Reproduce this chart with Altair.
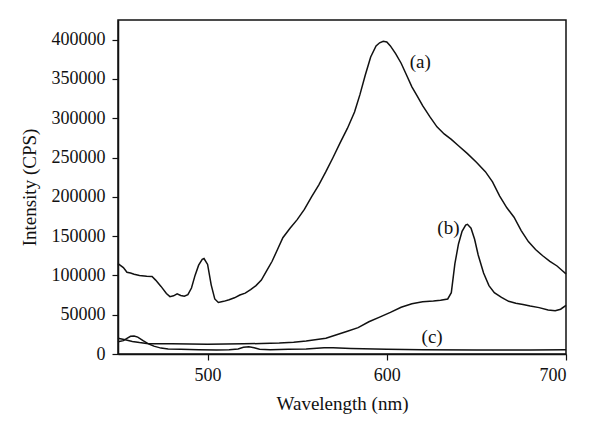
import altair as alt
import pandas as pd

# Curve (a)
a_wl = [450, 453, 455, 457, 459, 462, 466, 469, 471, 474, 477, 479, 481, 483, 485, 487, 489, 491, 493, 495,
        497, 498, 500, 502, 504, 506, 509, 512, 515, 518, 521, 524, 527, 530, 533, 536, 539, 542, 546, 550,
        554, 558, 562, 566, 570, 574, 578, 582, 585, 588, 591, 594, 596, 598, 600, 602, 605, 608, 611, 614,
        617, 620, 624, 628, 632, 636, 640, 645, 650, 655, 659, 663, 667, 671, 675, 679, 683, 687, 691, 695,
        698, 700]
a_int = [115000, 110000, 104000, 103000, 101500, 100000, 99000, 98500, 94000, 86000, 77000, 73000, 74000,
         76500, 74500, 73500, 75500, 84000, 100000, 113000, 120500, 121500, 114000, 88000, 70000, 65500, 67000,
         69000, 71500, 75000, 77500, 82000, 87000, 94000, 106000, 118000, 133000, 148000, 160000, 171000,
         184000, 200000, 215000, 232000, 250000, 269000, 287000, 308000, 330000, 355000, 378000, 392000,
         396000, 398000, 397000, 392000, 382000, 370000, 355000, 340000, 328000, 316000, 302000, 289000,
         280000, 273000, 265000, 255000, 244000, 232000, 219000, 201000, 186000, 174000, 157000, 143000,
         133000, 125000, 118000, 112000, 106000, 102000]

# Curve (b)
b_wl = [450, 454, 458, 462, 466, 470, 480, 490, 500, 510, 520, 530, 540, 548, 555, 560, 566, 572, 578, 584,
        590, 596, 602, 608, 614, 620, 626, 630, 634, 636, 638, 640, 642, 644, 645, 647, 649, 651, 654, 657,
        660, 664, 668, 672, 676, 680, 685, 690, 694, 697, 700]
b_int = [20000, 18000, 16000, 14500, 13500, 13000, 13000, 12800, 12500, 12700, 13000, 13300, 14000, 15000,
         16500, 18000, 20000, 24500, 29000, 33500, 41000, 47000, 53000, 59500, 64000, 66500, 67500, 68500,
         70000, 78000, 115000, 140000, 156000, 164000, 165000, 160000, 146000, 126000, 103000, 87000, 78000,
         72000, 67000, 64500, 63000, 61000, 59000, 56000, 55000, 57000, 62000]

# Curve (c)
c_wl = [450, 453, 455, 457, 459, 461, 464, 467, 470, 474, 478, 485, 495, 505, 512, 517, 520, 523, 526, 529,
        535, 545, 555, 565, 570, 580, 600, 620, 650, 680, 700]
c_int = [15500, 17000, 20000, 22500, 23000, 21500, 17000, 13000, 10000, 7500, 6500, 6000, 5500, 5200, 5500,
         6500, 8500, 9300, 8000, 6000, 5500, 6000, 6500, 7800, 7800, 7000, 6000, 5500, 5000, 5000, 5500]

# Curve labels
lab_text = ["(a)", "(b)", "(c)"]
lab_x = [618.7, 634.4, 625.3]
lab_y = [372000, 160500, 22000]

x_ticks = [500, 600, 700]
y_ticks = [0, 50000, 100000, 150000, 200000, 250000, 300000, 350000, 400000]

rows = []
for name, wl, it in [("a", a_wl, a_int), ("b", b_wl, b_int), ("c", c_wl, c_int)]:
    for w, v in zip(wl, it):
        rows.append({"series": name, "wl": w, "I": v})
df = pd.DataFrame(rows)
labels = pd.DataFrame({"t": lab_text, "x": lab_x, "y": lab_y})

FONT = "Liberation Serif"

x_enc = alt.X("wl:Q", scale=alt.Scale(domain=[450, 700], nice=False, zero=False),
              axis=alt.Axis(values=x_ticks, title="Wavelength (nm)", format="d"))
y_enc = alt.Y("I:Q", scale=alt.Scale(domain=[0, 425000], nice=False),
              axis=alt.Axis(values=y_ticks, title="Intensity (CPS)", format="d"))

lines = alt.Chart(df).mark_line(color="#111111", strokeWidth=1.5).encode(
    x=x_enc, y=y_enc, detail="series:N", order="wl:Q"
)

texts = alt.Chart(labels).mark_text(font=FONT, fontSize=19, color="#111111").encode(
    x=alt.X("x:Q"), y=alt.Y("y:Q"), text="t:N"
)

chart = (lines + texts).properties(
    width=448, height=334,
    autosize=alt.AutoSizeParams(type="none"),
    padding={"left": 110, "top": 12, "right": 26, "bottom": 75},
).configure_view(
    stroke="#111111", strokeWidth=1.5
).configure_axis(
    grid=False,
    domainColor="#111111", domainWidth=1.5,
    tickColor="#111111", tickSize=6, tickWidth=1.2,
    labelFont=FONT, labelFontSize=18, labelColor="#111111",
    titleFont=FONT, titleFontSize=19, titleFontWeight="normal", titleColor="#111111",
).configure_axisY(
    labelPadding=7, titlePadding=12
).configure_axisX(
    labelPadding=6, titlePadding=10
)

chart.save("out.html", embed_options={"renderer": "svg", "actions": False})
